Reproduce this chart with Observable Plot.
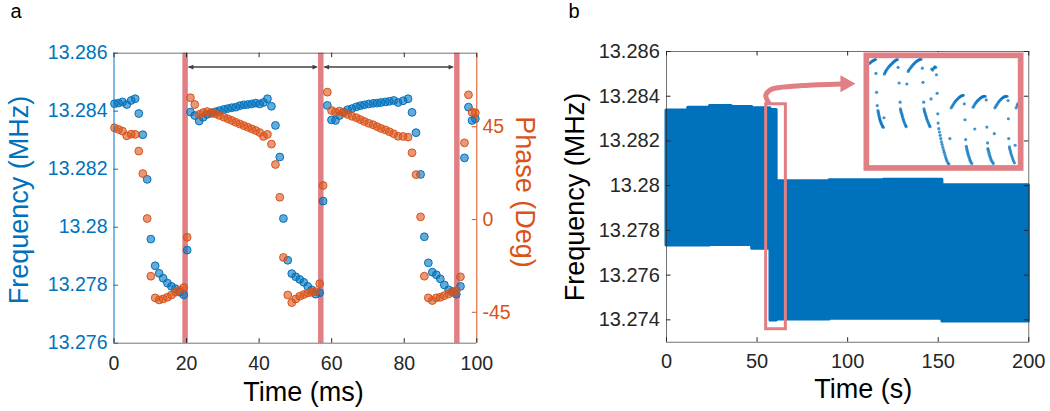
<!DOCTYPE html>
<html><head><meta charset="utf-8">
<script src="https://cdn.jsdelivr.net/npm/d3@7"></script>
<script src="https://cdn.jsdelivr.net/npm/@observablehq/plot@0.6"></script>
<style>
html,body{margin:0;padding:0;background:#fff;}
#fig{position:relative;width:1050px;height:411px;overflow:hidden;font-family:"Liberation Sans",Arial,Helvetica,sans-serif;}
.abs{position:absolute;}
.lbl{position:absolute;white-space:nowrap;line-height:1;font-family:"Liberation Sans",Arial,Helvetica,sans-serif;}
</style></head><body><div id="fig"></div>
<script>
// ---------- Panel a data ----------
const timeA = [0.14,1.24,2.34,3.53,4.73,5.83,6.84,7.94,9.14,10.15,11.35,12.45,13.55,14.74,15.84,16.94,18.04,19.23,20.16,
 21.07,22.26,23.47,24.57,25.67,26.86,27.96,29.06,30.25,31.35,32.45,33.55,34.66,35.76,36.86,37.96,39.06,40.17,41.2,42.3,43.4,44.5,45.7,46.7,47.9,49.0,50.1,51.2,52.3,53.4,54.5,55.6,56.7,57.63,
 58.8,59.95,61.05,62.15,63.3,64.4,65.6,66.8,67.9,69.0,70.2,71.4,72.5,73.6,74.8,75.9,77.1,78.3,79.7,81.05,82.15,83.25,84.5,85.54,86.64,87.74,88.84,89.94,91.05,92.24,93.3,94.35,95.5,96.6,97.7,98.7,99.6];
const freqA = [13.28426,13.28428,13.28432,13.28423,13.28437,13.28443,13.28392,13.28319,13.28165,13.27959,13.27867,13.27841,13.27824,13.27807,13.27796,13.27788,13.27776,13.27767,13.27921,
 13.28397,13.28385,13.28366,13.28379,13.28389,13.28393,13.28398,13.28402,13.28406,13.28409,13.28412,13.28414,13.28419,13.28422,13.28423,13.28425,13.28428,13.28425,13.2843,13.28443,13.28417,13.28351,13.28242,13.2803,13.27886,13.2784,13.27829,13.2782,13.2781,13.27796,13.27784,13.27769,13.27774,13.2809,
 13.2842,13.2837,13.28368,13.28385,13.28397,13.28405,13.28409,13.28415,13.28419,13.28422,13.28425,13.28427,13.28428,13.2843,13.28432,13.28434,13.28437,13.2843,13.28436,13.28443,13.28396,13.28326,13.28182,13.27967,13.27877,13.27845,13.27836,13.27822,13.27801,13.27784,13.27778,13.27769,13.27796,13.28239,13.28414,13.28368,13.28374];
const phaseA = [44.5,43.7,42.9,40.6,41.4,41.3,33.2,22.3,0.5,-27.5,-38.0,-39.0,-38.5,-37.7,-36.6,-35.3,-34.3,-33.0,-8.6,
 59.1,55.8,51.0,51.9,52.4,51.9,51.3,50.5,49.7,48.9,48.1,47.2,46.4,45.6,44.8,44.0,43.2,42.2,40.3,41.3,36.6,26.7,10.8,-18.4,-36.6,-40.3,-38.5,-37.2,-36.4,-35.6,-35.3,-35.0,-31.1,16.5,
 61.8,52.9,52.1,52.6,51.8,51.0,50.1,49.4,48.5,47.6,46.7,46.0,45.1,44.2,43.5,42.6,41.6,40.4,40.3,40.0,32.4,21.8,1.3,-27.5,-38.0,-39.3,-38.0,-37.7,-36.9,-36.1,-35.3,-34.5,-27.8,37.2,60.5,52.1,51.8];
const redLinesA = [19.6, 57.0, 94.5];
const arrowStartA = [19.6, 57.0];
const arrowEndA = [57.0, 94.5];
const arrowFreqA = 13.28552;
const xTicksA = [0, 20, 40, 60, 80, 100];
const yTicksA = [13.276, 13.278, 13.28, 13.282, 13.284, 13.286];
const phaseTicksA = [-45, 0, 45];
const freqDomainA = [13.276, 13.286];
const phaseDomainA = [-60, 80.7];

// ---------- Panel b data ----------
const bandTime = [0, 12, 24, 36, 47.3, 57.4, 60.8, 90, 120, 152.3, 200];
const bandLow  = [13.27732, 13.27732, 13.27735, 13.27735, 13.27718, 13.27397, 13.27402, 13.27405, 13.27405, 13.27393, 13.27393];
const bandHigh = [13.28336, 13.28348, 13.28356, 13.28352, 13.28346, 13.28338, 13.28020, 13.28024, 13.28026, 13.28002, 13.28002];
const windowTime = [55.0, 65.9];
const windowFreq = [13.27358, 13.28364];
const calloutTime = [56.9, 54.8, 57.3, 62.5, 75, 96.5];
const calloutFreq = [13.28365, 13.28404, 13.28428, 13.28439, 13.28448, 13.28455];
const calloutTip = {t: 104.3, f: 13.28456};
const xTicksB = [0, 50, 100, 150, 200];
const yTicksB = [13.274, 13.276, 13.278, 13.28, 13.282, 13.284, 13.286];
// inset (zoomed trace), relative units
const insetT = [29,32,35,38,41,44,47, 48,50,52, 54,55,56,57,58,59,60,61,63,64,66,68,70, 72,
 73,75,77,79,82,85,88,91,94,97,100,103,106,109,112, 114,117,120, 121,122,123,125,126,127,129,130,132,134,136,138, 140,
 144,146,149,152,155,158,161,164,167,170,173,176,179,182, 186,188,190, 191,192,193,195,196,198,199,201,203,205,207,209, 212,
 214,217,220,223,226,228,230, 232,233, 235,237,239,241,243,245,247,249,251,253,255,257,259,262,265, 268,
 272,275,278,281,284,287,290,293,296,299,302,305,308, 311,313,315, 317,318,319,321,322,324,326,328,330,333, 342,
 337,340,343,346,349,352,355,358,361,364,367,370,373, 376,378,380, 381,382,384,385,387,389,391,394,397, 400,
 402,405,408,411,414,417,420,423,426,429,432,435,438, 441,442,443, 445,446,448,449,451,453,455,457,460, 462, 465,468,470];
const insetF = [38,35,32,30,29,27,26, 68,125,165, 180,185,190,195,200,204,208,212,216,220,224,228,231, 202,
 70,66,62,58,54,50,46,43,40,37,34,31,29,27,26, 50,97,155, 175,180,185,190,195,200,205,210,215,220,225,229, 100,
 62,58,54,50,46,42,39,36,33,31,29,27,26,25, 52,95,155, 175,180,185,190,195,200,205,210,215,220,225,229, 145,
 55,58,52,48,50,72,128, 190,218, 235,245,255,265,275,283,291,299,306,313,320,326,332,338,342, 265,
 172,167,162,157,153,149,146,143,140,138,136,135,134, 160,208,268, 288,294,300,306,312,318,324,330,335,340, 236,
 170,165,160,156,152,149,146,143,141,139,138,137,137, 148,230,278, 295,300,306,312,318,324,330,335,340, 250,
 172,167,162,157,153,149,146,143,141,139,138,137,137, 150,205,265, 290,296,302,308,314,320,326,332,338, 285, 172,165,160];

// ---------- styles ----------
const BLUE = "#0072BD", ORANGE = "#D95319", GRAY = "#262626", PINK = "#e07f84", DARK = "#404040";
const FONT = "Liberation Sans, Arial, Helvetica, sans-serif";
const TICK = 4.5;
const fmt3 = d => String(+(+d).toFixed(3));
const fig = document.getElementById("fig");

function place(el, left, top) {
  const w = document.createElement("div");
  w.className = "abs"; w.style.left = left + "px"; w.style.top = top + "px";
  w.appendChild(el); fig.appendChild(w); return w;
}
function label(text, cx, cy, size, color, rot) {
  const d = document.createElement("div");
  d.className = "lbl"; d.textContent = text;
  d.style.fontSize = size + "px"; d.style.color = color;
  d.style.left = cx + "px"; d.style.top = cy + "px";
  d.style.transform = rot ? `translate(-50%,-50%) rotate(${rot}deg)` : "translate(-50%,-50%)";
  fig.appendChild(d);
}
const headRight = (L, W) => ({draw(ctx) { ctx.moveTo(0, 0); ctx.lineTo(-L, -W / 2); ctx.lineTo(-L, W / 2); ctx.closePath(); }});
const headLeft = (L, W) => ({draw(ctx) { ctx.moveTo(0, 0); ctx.lineTo(L, -W / 2); ctx.lineTo(L, W / 2); ctx.closePath(); }});

// ---------- Panel a ----------
{
  const [F0, F1] = freqDomainA, [P0, P1] = phaseDomainA;
  const p2f = p => F0 + (p - P0) / (P1 - P0) * (F1 - F0);
  const f2p = f => P0 + (f - F0) / (F1 - F0) * (P1 - P0);
  const rows = timeA.map((t, i) => ({t, f: freqA[i], pf: p2f(phaseA[i])}));
  const arrows = arrowStartA.map((a, i) => ({a, b: arrowEndA[i], f: arrowFreqA}));
  const W = 540, H = 411, ml = 113.5, mr = 540 - 476.3, mt = 52.7, mb = 411 - 342.7;
  const pw = W - ml - mr, ph = H - mt - mb;
  const svg = Plot.plot({
    width: W, height: H, marginLeft: ml, marginRight: mr, marginTop: mt, marginBottom: mb,
    style: {fontFamily: FONT, fontSize: "19.5px", background: "transparent", overflow: "visible"},
    x: {domain: [0, 100]},
    y: {domain: freqDomainA},
    marks: [
      Plot.ruleX(redLinesA, {x: d => d, stroke: PINK, strokeWidth: 5.5}),
      Plot.ruleY(arrows, {x1: "a", x2: "b", y: "f", stroke: DARK, strokeWidth: 1.5, insetLeft: 4, insetRight: 4}),
      Plot.dot(arrows, {x: "a", y: "f", symbol: headLeft(5.5, 4.8), fill: DARK, stroke: "none", dx: 2.8}),
      Plot.dot(arrows, {x: "b", y: "f", symbol: headRight(5.5, 4.8), fill: DARK, stroke: "none", dx: -2.8}),
      Plot.dot(rows, {x: "t", y: "f", r: 3.9, fill: BLUE, fillOpacity: 0.6, stroke: BLUE, strokeWidth: 1}),
      Plot.dot(rows, {x: "t", y: "pf", r: 3.9, fill: ORANGE, fillOpacity: 0.6, stroke: ORANGE, strokeWidth: 1}),
      Plot.ruleY([F1], {stroke: GRAY, strokeWidth: 0.8, strokeOpacity: 0.8}),
      Plot.ruleY([F0], {stroke: GRAY, strokeWidth: 0.8, strokeOpacity: 0.8}),
      Plot.ruleX([0], {stroke: BLUE, strokeWidth: 1}),
      Plot.ruleX([100], {stroke: ORANGE, strokeWidth: 1}),
      Plot.tickX(xTicksA, {x: d => d, stroke: GRAY, insetTop: ph - TICK}),
      Plot.tickX(xTicksA, {x: d => d, stroke: GRAY, insetBottom: ph - TICK}),
      Plot.tickY(yTicksA, {y: d => d, stroke: BLUE, insetRight: pw - TICK}),
      Plot.tickY(phaseTicksA.map(p2f), {y: d => d, stroke: ORANGE, insetLeft: pw - TICK}),
      Plot.axisX({ticks: xTicksA, tickSize: 0, tickPadding: 12.5, label: null, color: GRAY, fontSize: 19.5}),
      Plot.axisY({ticks: yTicksA, anchor: "left", tickSize: 0, tickPadding: 6.5, tickFormat: fmt3, label: null, color: BLUE, fontSize: 19.5}),
      Plot.axisY({ticks: phaseTicksA.map(p2f), anchor: "right", tickSize: 0, tickPadding: 5.7, tickFormat: d => String(Math.round(f2p(d))), label: null, color: ORANGE, fontSize: 19.5})
    ]
  });
  place(svg, 0, 0);
}

// ---------- Panel b ----------
{
  const band = bandTime.map((t, i) => ({t, lo: bandLow[i], hi: bandHigh[i]}));
  const callout = calloutTime.map((t, i) => ({t, f: calloutFreq[i]}));
  const win = [{t1: windowTime[0], t2: windowTime[1], f1: windowFreq[0], f2: windowFreq[1]}];
  const W = 510, H = 411, ml = 126, mr = 1050 - 1028.3, mt = 51, mb = 411 - 341.7;
  const pw = W - ml - mr, ph = H - mt - mb;
  const svg = Plot.plot({
    width: W, height: H, marginLeft: ml, marginRight: mr, marginTop: mt, marginBottom: mb,
    style: {fontFamily: FONT, fontSize: "19.5px", background: "transparent", overflow: "visible"},
    x: {domain: [0, 200]},
    y: {domain: [13.273, 13.286]},
    marks: [
      Plot.areaY(band, {x: "t", y1: "lo", y2: "hi", curve: "step-after", fill: BLUE, stroke: BLUE, strokeWidth: 3}),
      Plot.rect(win, {x1: "t1", x2: "t2", y1: "f1", y2: "f2", fill: "none", stroke: PINK, strokeWidth: 3}),
      Plot.line(callout, {x: "t", y: "f", curve: "catmull-rom", stroke: PINK, strokeWidth: 5, strokeLinecap: "butt"}),
      Plot.dot([calloutTip], {x: "t", y: "f", symbol: headRight(15, 17), fill: PINK, stroke: "none"}),
      Plot.frame({stroke: GRAY, strokeWidth: 0.8, strokeOpacity: 0.8}),
      Plot.tickX(xTicksB, {x: d => d, stroke: GRAY, insetTop: ph - TICK}),
      Plot.tickX(xTicksB, {x: d => d, stroke: GRAY, insetBottom: ph - TICK}),
      Plot.tickY(yTicksB, {y: d => d, stroke: GRAY, insetRight: pw - TICK}),
      Plot.tickY(yTicksB, {y: d => d, stroke: GRAY, insetLeft: pw - TICK}),
      Plot.axisX({ticks: xTicksB, tickSize: 0, tickPadding: 11.6, label: null, color: GRAY, fontSize: 20}),
      Plot.axisY({ticks: yTicksB, anchor: "left", tickSize: 0, tickPadding: 6.7, tickFormat: fmt3, label: null, color: GRAY, fontSize: 20})
    ]
  });
  place(svg, 540, 0);

  // inset
  const pts = insetT.map((t, i) => ({t, f: insetF[i]}));
  const m = 5.7;
  const inset = Plot.plot({
    width: 160, height: 118.3, marginLeft: m, marginRight: m, marginTop: m, marginBottom: m,
    style: {background: "white", overflow: "visible"},
    x: {domain: [28, 470], axis: null},
    y: {domain: [345, 22], axis: null},
    marks: [
      Plot.dot(pts, {x: "t", y: "f", r: 1.6, fill: BLUE, fillOpacity: 0.75, stroke: "none"}),
      Plot.frame({stroke: PINK, strokeWidth: m, inset: -m / 2})
    ]
  });
  place(inset, 863.3, 51.7);
}

// ---------- labels ----------
label("a", 16, 11, 20, "#000", 0);
label("b", 574, 11, 20, "#000", 0);
label("Frequency (MHz)", 19, 200, 27, BLUE, -90);
label("Phase (Deg)", 524, 192, 27, ORANGE, 90);
label("Time (ms)", 303.4, 391.5, 27, "#000", 0);
label("Frequency (MHz)", 575, 196.7, 27, "#000", -90);
label("Time (s)", 863.3, 389, 27, "#000", 0);
</script></body></html>
